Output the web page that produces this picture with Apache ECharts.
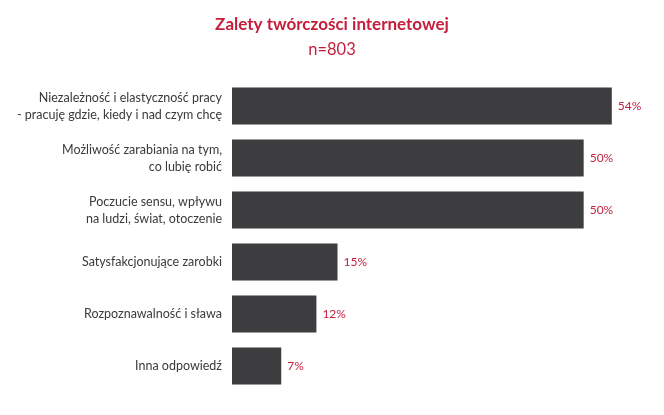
<!DOCTYPE html>
<html><head><meta charset="utf-8">
<script src="https://cdn.jsdelivr.net/npm/echarts@6/dist/echarts.min.js"></script>
<style>html,body{margin:0;padding:0;background:#fff}#c{width:664px;height:415px}</style>
</head><body><div id="c"></div>
<script>
const titleText = 'Zalety twórczości internetowej';
const subtitleText = 'n=803';
const categories = [
  'Niezależność i elastyczność pracy\n- pracuję gdzie, kiedy i nad czym chcę',
  'Możliwość zarabiania na tym,\nco lubię robić',
  'Poczucie sensu, wpływu\nna ludzi, świat, otoczenie',
  'Satysfakcjonujące zarobki',
  'Rozpoznawalność i sława',
  'Inna odpowiedź'
];
const values = [54, 50, 50, 15, 12, 7];

const chart = echarts.init(document.getElementById('c'));
chart.setOption({
  backgroundColor: '#fff',
  title: {
    text: titleText, subtext: subtitleText, left: 'center', top: 11, itemGap: 8,
    textStyle: { fontFamily: 'Lato', fontWeight: 'bold', fontSize: 17, color: '#c41e3d' },
    subtextStyle: { fontFamily: 'Lato', fontSize: 16.5, color: '#c41e3d' }
  },
  grid: { left: 232, right: 10, top: 80, bottom: 23, containLabel: false },
  xAxis: { type: 'value', min: 0, max: 60, show: false },
  yAxis: {
    type: 'category', data: categories, inverse: true,
    axisLine: { show: false }, axisTick: { show: false },
    axisLabel: { margin: 10, fontFamily: 'Lato', fontSize: 12.5, color: '#3a3a3a', lineHeight: 17, align: 'right' }
  },
  series: [{
    type: 'bar', data: values, barCategoryGap: '29%',
    itemStyle: { color: '#3d3d3f' },
    label: { show: true, position: 'right', distance: 6, formatter: '{c}%', fontFamily: 'Lato', fontSize: 12, color: '#c41e3d' }
  }]
});
</script></body></html>
